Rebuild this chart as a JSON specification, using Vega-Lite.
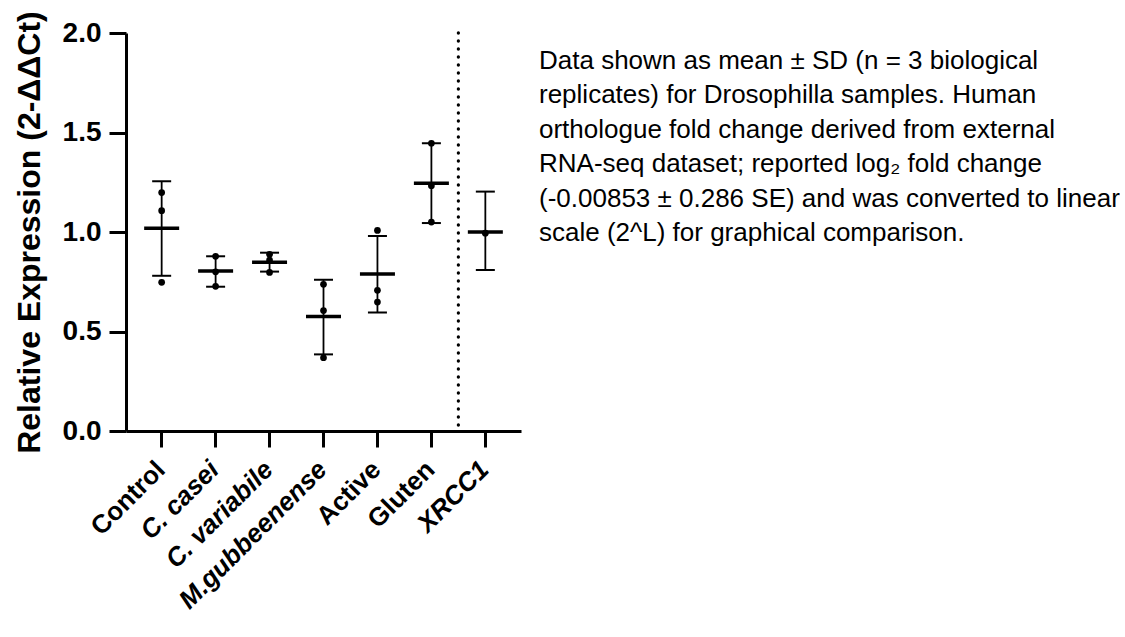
{
  "$schema": "https://vega.github.io/schema/vega-lite/v6.json",
  "background": "white",
  "padding": {"left": 13, "top": 10, "right": 0, "bottom": 0},
  "spacing": 18,
  "config": {
    "view": {"stroke": null},
    "font": "Liberation Sans",
    "axisY": {
      "domainWidth": 3, "domainColor": "black", "tickWidth": 3, "tickColor": "black", "tickSize": 17,
      "labelFontSize": 28, "labelFontWeight": "bold", "labelColor": "black", "labelPadding": 8, "labelFont": "Liberation Sans",
      "titleFontSize": 32, "titleFontWeight": "bold", "titleColor": "black", "titlePadding": 16, "titleFont": "Liberation Sans",
      "grid": false
    },
    "axisX": {
      "domainWidth": 3, "domainColor": "black", "tickWidth": 3, "tickColor": "black", "tickSize": 16,
      "labelFontSize": 26, "labelFontWeight": "bold", "labelColor": "black", "labelAngle": -45, "labelPadding": 9, "labelOffset": -10, "labelFont": "Liberation Sans",
      "labelLimit": 0, "grid": false
    }
  },
  "datasets": {
    "points": [
      {"sample": "Control", "value": 1.198}, {"sample": "Control", "value": 1.107}, {"sample": "Control", "value": 0.747},
      {"sample": "C. casei", "value": 0.878}, {"sample": "C. casei", "value": 0.800}, {"sample": "C. casei", "value": 0.727},
      {"sample": "C. variabile", "value": 0.888}, {"sample": "C. variabile", "value": 0.859}, {"sample": "C. variabile", "value": 0.797},
      {"sample": "M.gubbeenense", "value": 0.737}, {"sample": "M.gubbeenense", "value": 0.605}, {"sample": "M.gubbeenense", "value": 0.368},
      {"sample": "Active", "value": 1.008}, {"sample": "Active", "value": 0.707}, {"sample": "Active", "value": 0.648},
      {"sample": "Gluten", "value": 1.446}, {"sample": "Gluten", "value": 1.233}, {"sample": "Gluten", "value": 1.050},
      {"sample": "XRCC1", "value": 0.994}
    ],
    "summary": [
      {"sample": "Control", "mean": 1.019, "lo": 0.780, "hi": 1.255},
      {"sample": "C. casei", "mean": 0.804, "lo": 0.725, "hi": 0.878},
      {"sample": "C. variabile", "mean": 0.848, "lo": 0.801, "hi": 0.896},
      {"sample": "M.gubbeenense", "mean": 0.575, "lo": 0.385, "hi": 0.760},
      {"sample": "Active", "mean": 0.789, "lo": 0.596, "hi": 0.980},
      {"sample": "Gluten", "mean": 1.245, "lo": 1.045, "hi": 1.446},
      {"sample": "XRCC1", "mean": 1.0, "lo": 0.809, "hi": 1.203}
    ],
    "divider": [{"sample": "XRCC1"}],
    "note": [
      {"line": 1, "text": "Data shown as mean ± SD (n = 3 biological"},
      {"line": 2, "text": "replicates) for Drosophilla samples. Human"},
      {"line": 3, "text": "orthologue fold change derived from external"},
      {"line": 4, "text": "RNA-seq dataset; reported log₂ fold change"},
      {"line": 5, "text": "(-0.00853 ± 0.286 SE) and was converted to linear"},
      {"line": 6, "text": "scale (2^L) for graphical comparison."}
    ]
  },
  "hconcat": [
    {
      "width": 395,
      "height": 398,
      "encoding": {
        "x": {
          "field": "sample", "type": "nominal", "title": null,
          "scale": {
            "domain": ["Control", "C. casei", "C. variabile", "M.gubbeenense", "Active", "Gluten", "XRCC1"],
            "paddingInner": 0, "paddingOuter": 0.161
          },
          "axis": {
            "labelFontStyle": {
              "condition": {"test": "indexof(['C. casei','C. variabile','M.gubbeenense','XRCC1'], datum.value) >= 0", "value": "italic"},
              "value": "normal"
            }
          }
        }
      },
      "layer": [
        {
          "data": {"name": "summary"},
          "mark": {"type": "rule", "color": "black", "strokeWidth": 1.8},
          "encoding": {
            "y": {
              "field": "lo", "type": "quantitative", "title": "Relative Expression (2-ΔΔCt)",
              "scale": {"domain": [0, 2], "nice": false},
              "axis": {"values": [0, 0.5, 1, 1.5, 2], "format": ".1f"}
            },
            "y2": {"field": "hi"}
          }
        },
        {
          "data": {"name": "summary"},
          "mark": {"type": "tick", "color": "black", "opacity": 1, "size": 19, "thickness": 2, "orient": "horizontal"},
          "encoding": {"y": {"field": "hi", "type": "quantitative", "title": "Relative Expression (2-ΔΔCt)"}}
        },
        {
          "data": {"name": "summary"},
          "mark": {"type": "tick", "color": "black", "opacity": 1, "size": 19, "thickness": 2, "orient": "horizontal"},
          "encoding": {"y": {"field": "lo", "type": "quantitative", "title": "Relative Expression (2-ΔΔCt)"}}
        },
        {
          "data": {"name": "summary"},
          "mark": {"type": "tick", "color": "black", "opacity": 1, "size": 35, "thickness": 3.5, "orient": "horizontal"},
          "encoding": {"y": {"field": "mean", "type": "quantitative", "title": "Relative Expression (2-ΔΔCt)"}}
        },
        {
          "data": {"name": "points"},
          "mark": {"type": "point", "filled": true, "color": "black", "opacity": 1, "size": 45},
          "encoding": {"y": {"field": "value", "type": "quantitative", "title": "Relative Expression (2-ΔΔCt)"}}
        },
        {
          "data": {"name": "divider"},
          "mark": {"type": "rule", "color": "black", "strokeWidth": 3.3, "strokeCap": "round", "strokeDash": [0.1, 7.9]},
          "encoding": {"x": {"field": "sample", "type": "nominal", "bandPosition": 0}}
        }
      ]
    },
    {
      "width": 580,
      "height": 228,
      "data": {"name": "note"},
      "mark": {"type": "text", "align": "left", "baseline": "middle", "fontSize": 26, "font": "Liberation Sans", "color": "black"},
      "encoding": {
        "x": {"value": 0},
        "y": {"field": "line", "type": "ordinal", "axis": null, "scale": {"type": "point", "padding": 0.814}},
        "text": {"field": "text"}
      }
    }
  ]
}
